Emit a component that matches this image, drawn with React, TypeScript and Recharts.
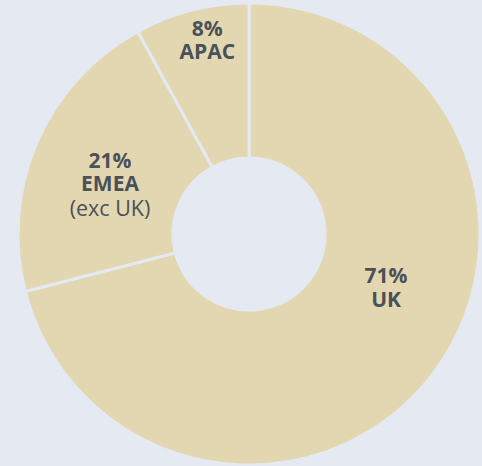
import React from "react";
import { PieChart, Pie, Cell } from "recharts";

const regions = ["UK", "EMEA", "APAC"];
const shares = [71, 21, 8];
const subtitles = ["", "(exc UK)", ""];

const data = regions.map((name, i) => ({ name, value: shares[i], sub: subtitles[i] }));

const BG = "#e4e9f2";
const FILL = "#e3d7b1";
const TEXT = "#4a5159";

// label block placement, polar relative to the pie centre
const labelPlacement = [
  { angle: -21.2, r: 147 },
  { angle: 159.9, r: 148 },
  { angle: 102.1, r: 199 },
];

const RADIAN = Math.PI / 180;

const renderLabel = (props: any) => {
  const { cx, cy, index, payload } = props;
  const p = labelPlacement[index];
  const x = cx + p.r * Math.cos(-p.angle * RADIAN);
  const y = cy + p.r * Math.sin(-p.angle * RADIAN);
  const item = payload?.payload ?? payload;
  const lines: { t: string; bold: boolean }[] = [
    { t: `${item.value}%`, bold: true },
    { t: item.name, bold: true },
  ];
  if (item.sub) lines.push({ t: item.sub, bold: false });
  const lh = 23.5;
  const top = y - ((lines.length - 1) / 2) * lh;
  return (
    <text
      x={x}
      y={top}
      textAnchor="middle"
      dominantBaseline="central"
      fill={TEXT}
      fontFamily="'Open Sans', sans-serif"
      fontSize={21}
    >
      {lines.map((l, i) => (
        <tspan
          key={i}
          x={x}
          y={top + i * lh}
          fontWeight={l.bold ? 700 : 400}
          fontSize={l.bold ? 21 : 21.5}
        >
          {l.t}
        </tspan>
      ))}
    </text>
  );
};

export default function App() {
  return (
    <div style={{ position: "absolute", left: 0, top: 0, width: 482, height: 466, background: BG }}>
      <PieChart width={482} height={466} margin={{ top: 0, right: 0, bottom: 0, left: 0 }}>
        <Pie
          data={data}
          dataKey="value"
          nameKey="name"
          cx={249}
          cy={234}
          innerRadius={76}
          outerRadius={231}
          startAngle={90}
          endAngle={-270}
          stroke={BG}
          strokeWidth={3}
          label={renderLabel}
          labelLine={false}
          isAnimationActive={false}
        >
          {data.map((d, i) => (
            <Cell key={`cell-${i}`} fill={FILL} />
          ))}
        </Pie>
      </PieChart>
    </div>
  );
}
